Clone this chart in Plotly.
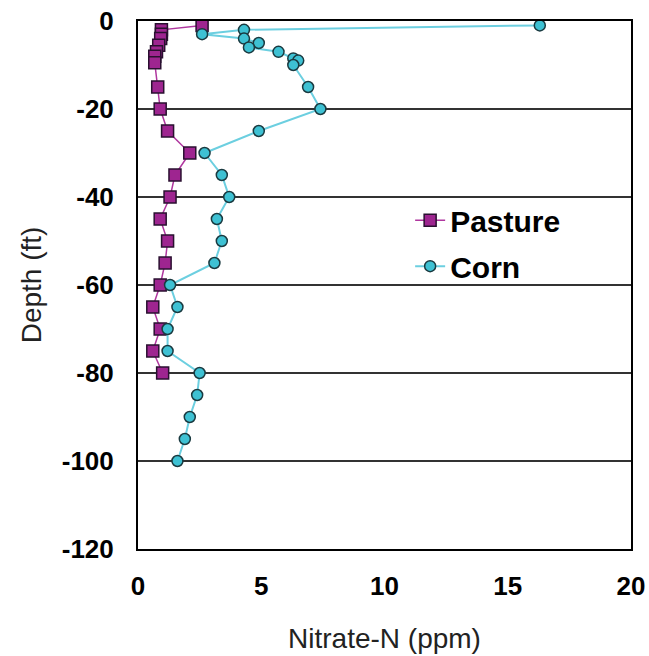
import plotly.graph_objects as go

# Data
pasture_depth = [-1, -2, -3, -4, -5.5, -7, -8, -9.5, -15, -20, -25, -30, -35, -40, -45, -50, -55, -60, -65, -70, -75, -80]
pasture_no3 = [2.6, 0.95, 0.95, 0.92, 0.84, 0.75, 0.68, 0.68, 0.8, 0.9, 1.2, 2.1, 1.5, 1.3, 0.9, 1.2, 1.1, 0.9, 0.6, 0.9, 0.6, 1.0]

corn_depth = [-1, -2, -3, -4, -5, -6, -7, -8.5, -9, -10, -15, -20, -25, -30, -35, -40, -45, -50, -55, -60, -65, -70, -75, -80, -85, -90, -95, -100]
corn_no3 = [16.3, 4.3, 2.6, 4.3, 4.9, 4.5, 5.7, 6.3, 6.5, 6.3, 6.9, 7.4, 4.9, 2.7, 3.4, 3.7, 3.2, 3.4, 3.1, 1.3, 1.6, 1.2, 1.2, 2.5, 2.4, 2.1, 1.9, 1.6]

x_ticks = [0, 5, 10, 15, 20]
y_ticks = [0, -20, -40, -60, -80, -100, -120]
y_tick_labels = ["0", "-20", "-40", "-60", "-80", "-100", "-120"]

FONT = "Arial, Liberation Sans, sans-serif"

fig = go.Figure()
fig.add_trace(go.Scatter(
    x=pasture_no3, y=pasture_depth, name="Pasture", mode="lines+markers",
    line=dict(color="#b0379f", width=1.5),
    marker=dict(symbol="square", size=12, color="#9e2590",
                line=dict(color="#2a1030", width=1.5)),
    legendgroup="a",
))
fig.add_trace(go.Scatter(
    x=corn_no3, y=corn_depth, name="Corn", mode="lines+markers",
    line=dict(color="#6ccfe0", width=2),
    marker=dict(symbol="circle", size=11, color="#3ec1d3",
                line=dict(color="#1a3a40", width=1.5)),
    legendgroup="b",
))

fig.update_layout(
    width=649, height=656,
    margin=dict(l=138, r=18, t=21, b=107),
    paper_bgcolor="white", plot_bgcolor="white",
    font=dict(family=FONT, color="black"),
    showlegend=True,
    legend=dict(x=0.552, y=0.672, xanchor="left", yanchor="top",
                font=dict(family=FONT, size=30, color="black", weight="bold"),
                bgcolor="rgba(0,0,0,0)", tracegroupgap=4, traceorder="grouped"),
    xaxis=dict(range=[0, 20], tickvals=x_ticks, showgrid=False, zeroline=False,
               showline=True, mirror=True, linecolor="black", linewidth=2,
               ticks="", ticklabelstandoff=13, automargin=False,
               ticklabeloverflow="allow",
               tickfont=dict(family=FONT, size=26, color="black", weight="bold"),
               title=dict(text="Nitrate-N (ppm)", standoff=28,
                          font=dict(family=FONT, size=28, color="#222"))),
    yaxis=dict(range=[-120, 0], tickvals=y_ticks, ticktext=y_tick_labels,
               showgrid=True, gridcolor="#333", gridwidth=2, zeroline=False,
               showline=True, mirror=True, linecolor="black", linewidth=2,
               ticks="", ticklabelstandoff=17, automargin=False,
               ticklabeloverflow="allow",
               tickfont=dict(family=FONT, size=26, color="black", weight="bold"),
               title=dict(text="Depth (ft)", standoff=12,
                          font=dict(family=FONT, size=28, color="#222"))),
)

# remove the browser's default 8px body margin so the figure fills the window
fig.write_html("out.html", config={"displayModeBar": False},
               post_script="document.body.style.margin='0';")
